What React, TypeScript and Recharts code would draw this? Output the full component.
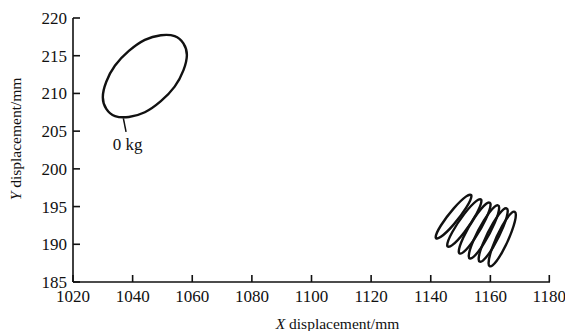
import React from 'react';
import { LineChart, Line, XAxis, YAxis, Label, ReferenceLine, ReferenceDot } from 'recharts';

// X ticks / Y ticks
const X_TICKS = [1020, 1040, 1060, 1080, 1100, 1120, 1140, 1160, 1180];
const Y_TICKS = [185, 190, 195, 200, 205, 210, 215, 220];

// 0 kg trajectory (points read along the loop)
const LOAD_0KG = [
  { x: 1058.2, y: 215.1 }, { x: 1054.1, y: 217.6 }, { x: 1044.1, y: 217.1 }, { x: 1034.1, y: 213.7 },
  { x: 1030.0, y: 209.5 }, { x: 1034.1, y: 207.0 }, { x: 1044.1, y: 207.5 }, { x: 1054.1, y: 210.9 },
];

// loaded trajectories (six successive loops)
const LOOP_1 = [
  { x: 1153.65, y: 196.4 }, { x: 1151.9, y: 196.35 }, { x: 1147.65, y: 194.73 }, { x: 1143.4, y: 192.49 },
  { x: 1141.65, y: 190.94 }, { x: 1143.4, y: 190.99 }, { x: 1147.65, y: 192.61 }, { x: 1151.9, y: 194.85 },
];
const LOOP_2 = [
  { x: 1157.0, y: 195.76 }, { x: 1155.35, y: 195.75 }, { x: 1151.27, y: 194.03 }, { x: 1147.2, y: 191.59 },
  { x: 1145.52, y: 189.88 }, { x: 1147.2, y: 189.89 }, { x: 1151.27, y: 191.61 }, { x: 1155.35, y: 194.05 },
];
const LOOP_3 = [
  { x: 1160.07, y: 195.26 }, { x: 1158.5, y: 195.34 }, { x: 1154.74, y: 193.55 }, { x: 1150.97, y: 190.94 },
  { x: 1149.4, y: 189.04 }, { x: 1150.97, y: 188.96 }, { x: 1154.74, y: 190.76 }, { x: 1158.5, y: 193.36 },
];
const LOOP_4 = [
  { x: 1162.95, y: 194.86 }, { x: 1161.46, y: 194.99 }, { x: 1157.85, y: 193.16 }, { x: 1154.24, y: 190.44 },
  { x: 1152.75, y: 188.42 }, { x: 1154.24, y: 188.29 }, { x: 1157.85, y: 190.12 }, { x: 1161.46, y: 192.84 },
];
const LOOP_5 = [
  { x: 1165.83, y: 194.43 }, { x: 1164.4, y: 194.63 }, { x: 1160.95, y: 192.83 }, { x: 1157.5, y: 190.09 },
  { x: 1156.07, y: 188.03 }, { x: 1157.5, y: 187.84 }, { x: 1160.95, y: 189.63 }, { x: 1164.4, y: 192.37 },
];
const LOOP_6 = [
  { x: 1168.55, y: 193.91 }, { x: 1167.2, y: 194.2 }, { x: 1163.97, y: 192.44 }, { x: 1160.73, y: 189.66 },
  { x: 1159.39, y: 187.49 }, { x: 1160.73, y: 187.2 }, { x: 1163.97, y: 188.96 }, { x: 1167.2, y: 191.74 },
];

const SERIES = [LOAD_0KG, LOOP_1, LOOP_2, LOOP_3, LOOP_4, LOOP_5, LOOP_6];

// label for the 0 kg loop
const LABEL_TEXT = '0 kg';
const LEADER = [{ x: 1036.9, y: 206.7 }, { x: 1037.8, y: 204.9 }];
const LABEL_AT = { x: 1038.3, y: 203.3 };

const FONT = "'Liberation Serif', 'Times New Roman', serif";
const INK = '#111';

// closed Catmull-Rom curve
function closedCurve(context: any) {
  let pts: number[][] = [];
  return {
    areaStart() {},
    areaEnd() {},
    lineStart() { pts = []; },
    point(x: number, y: number) { pts.push([+x, +y]); },
    lineEnd() {
      const n = pts.length;
      if (n < 3) return;
      context.moveTo(pts[0][0], pts[0][1]);
      for (let i = 0; i < n; i++) {
        const p0 = pts[(i - 1 + n) % n];
        const p1 = pts[i];
        const p2 = pts[(i + 1) % n];
        const p3 = pts[(i + 2) % n];
        context.bezierCurveTo(
          p1[0] + (p2[0] - p0[0]) / 6, p1[1] + (p2[1] - p0[1]) / 6,
          p2[0] - (p3[0] - p1[0]) / 6, p2[1] - (p3[1] - p1[1]) / 6,
          p2[0], p2[1]
        );
      }
      context.closePath();
    },
  };
}

const XTick = (props: any) => {
  const { x, y, payload } = props;
  return (
    <g>
      <line x1={x} y1={y} x2={x} y2={y - 7} stroke={INK} strokeWidth={1.6} />
      <text x={x} y={y + 20} textAnchor="middle" fontFamily={FONT} fontSize={17} fill={INK}>
        {payload.value}
      </text>
    </g>
  );
};

const YTick = (props: any) => {
  const { x, y, payload } = props;
  return (
    <g>
      <line x1={x} y1={y} x2={x + 7} y2={y} stroke={INK} strokeWidth={1.6} />
      <text x={x - 6} y={y + 6} textAnchor="end" fontFamily={FONT} fontSize={17} fill={INK}>
        {payload.value}
      </text>
    </g>
  );
};

const XTitle = (props: any) => {
  const vb = props.viewBox;
  return (
    <text x={vb.x + vb.width / 2 + 26} y={vb.y + 47} textAnchor="middle" fontFamily={FONT} fontSize={15.5} fill={INK}>
      <tspan fontStyle="italic">X</tspan> displacement/mm
    </text>
  );
};

const YTitle = (props: any) => {
  const vb = props.viewBox;
  const cx = vb.x - 7;
  const cy = vb.y + vb.height / 2 - 11;
  return (
    <text x={cx} y={cy} transform={`rotate(-90, ${cx}, ${cy})`} textAnchor="middle" fontFamily={FONT} fontSize={15.5} fill={INK}>
      <tspan fontStyle="italic">Y</tspan> displacement/mm
    </text>
  );
};

export default function App() {
  return (
    <div style={{ position: 'absolute', left: 0, top: 0, width: 565, height: 331, background: '#fff' }}>
      <LineChart width={565} height={331} margin={{ top: 18, right: 15, bottom: 19, left: 28 }}>
        <XAxis
          type="number"
          dataKey="x"
          domain={[1020, 1180]}
          ticks={X_TICKS}
          allowDataOverflow
          height={30}
          tickLine={false}
          tickSize={0}
          tickMargin={0}
          tick={XTick}
          axisLine={{ stroke: INK, strokeWidth: 1.6 }}
        >
          <Label content={XTitle} />
        </XAxis>
        <YAxis
          type="number"
          dataKey="y"
          domain={[185, 220]}
          ticks={Y_TICKS}
          allowDataOverflow
          width={45}
          tickLine={false}
          tickSize={0}
          tickMargin={0}
          tick={YTick}
          axisLine={{ stroke: INK, strokeWidth: 1.6 }}
        >
          <Label content={YTitle} />
        </YAxis>
        {SERIES.map((d, i) => (
          <Line
            key={i}
            data={d}
            dataKey="y"
            type={closedCurve as any}
            stroke={INK}
            strokeWidth={2.4}
            dot={false}
            activeDot={false}
            isAnimationActive={false}
          />
        ))}
        <ReferenceLine segment={LEADER} stroke={INK} strokeWidth={1.5} />
        <ReferenceDot
          x={LABEL_AT.x}
          y={LABEL_AT.y}
          r={0}
          stroke="none"
          fill="none"
          label={{ value: LABEL_TEXT, position: 'center', fontFamily: FONT, fontSize: 17, fill: INK }}
        />
      </LineChart>
    </div>
  );
}
